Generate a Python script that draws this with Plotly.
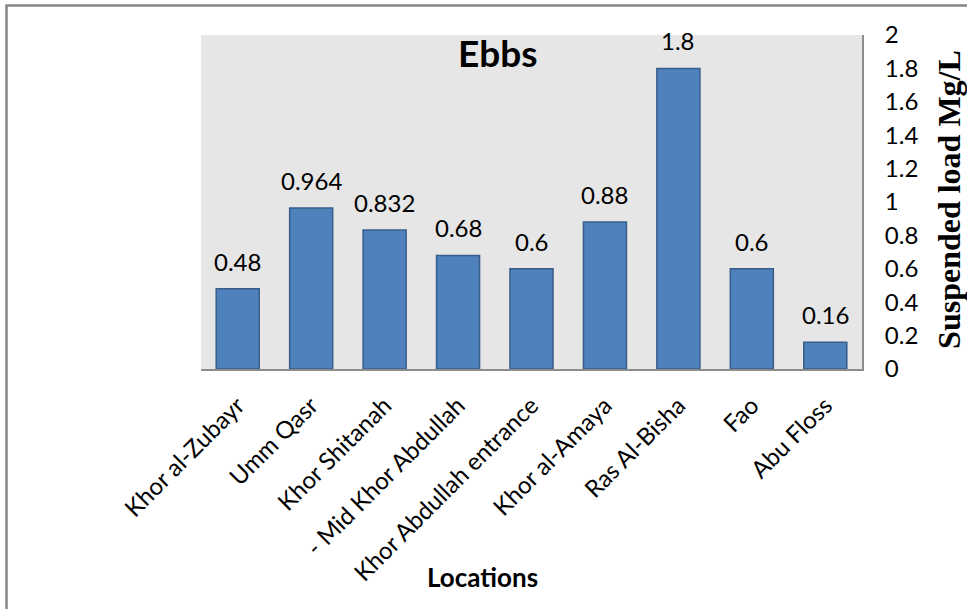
import plotly.graph_objects as go

locations = [
    "Khor al-Zubayr",
    "Umm Qasr",
    "Khor Shitanah",
    "- Mid Khor Abdullah",
    "Khor Abdullah entrance",
    "Khor al-Amaya",
    "Ras Al-Bisha",
    "Fao",
    "Abu Floss",
]
suspended_load = [0.48, 0.964, 0.832, 0.68, 0.6, 0.88, 1.8, 0.6, 0.16]
y_ticks = [0, 0.2, 0.4, 0.6, 0.8, 1, 1.2, 1.4, 1.6, 1.8, 2]
y_tick_text = ["0", "0.2", "0.4", "0.6", "0.8", "1", "1.2", "1.4", "1.6", "1.8", "2"]

sans = "Lato, Calibri, Carlito, sans-serif"
serif = "Liberation Serif, Times New Roman, serif"

fig = go.Figure()
fig.add_trace(
    go.Bar(
        x=locations,
        y=suspended_load,
        marker=dict(color="#4f81bd", line=dict(color="#385d8a", width=1.5)),
        showlegend=False,
        hoverinfo="x+y",
    )
)

# value labels sitting above each bar
for loc, val in zip(locations, suspended_load):
    fig.add_annotation(
        x=loc, y=val, text=f"{val:g}", showarrow=False,
        yanchor="bottom", yshift=11,
        font=dict(family=sans, size=24, color="#000000"),
    )

fig.add_annotation(
    x=0.4493, y=0.947, xref="paper", yref="paper", text="<b>Ebbs</b>",
    showarrow=False, xanchor="center", yanchor="middle",
    font=dict(family=sans, size=37, color="#000000"),
)
fig.add_annotation(
    x=1.1315, y=0.509, xref="paper", yref="paper",
    text="<b>Suspended load Mg/L</b>", textangle=-90, showarrow=False,
    xanchor="center", yanchor="middle",
    font=dict(family=serif, size=32, color="#000000"),
)
fig.add_annotation(
    x=0.4266, y=-0.6228, xref="paper", yref="paper", text="<b>Locations</b>",
    showarrow=False, xanchor="center", yanchor="middle",
    font=dict(family=sans, size=26, color="#000000"),
)

# outer chart frame (left and top edges visible)
fig.add_shape(
    type="rect", xref="paper", yref="paper",
    x0=-0.2942, x1=1.21, y0=-1.9, y1=1.0883,
    line=dict(color="#868686", width=2.5), fillcolor="rgba(0,0,0,0)", layer="above",
)

fig.update_layout(
    width=967, height=609,
    margin=dict(l=201, r=105, t=35, b=240, autoexpand=False),
    paper_bgcolor="#ffffff",
    plot_bgcolor="#e6e6e6",
    bargap=0.414,
    font=dict(family=sans, color="#000000"),
    xaxis=dict(
        tickangle=-45,
        tickfont=dict(family=sans, size=24, color="#000000"),
        showline=True, linecolor="#8c8c8c", linewidth=2,
        showgrid=False, ticks="", automargin=False,
        ticklabelstandoff=11,
    ),
    yaxis=dict(
        side="right", range=[0, 2],
        tickvals=y_ticks, ticktext=y_tick_text,
        tickfont=dict(family=sans, size=24, color="#000000"),
        showline=True, linecolor="#8c8c8c", linewidth=2,
        showgrid=False, zeroline=False, ticks="",
        ticklabelstandoff=16, automargin=False,
    ),
)

fig.write_html("out.html")
